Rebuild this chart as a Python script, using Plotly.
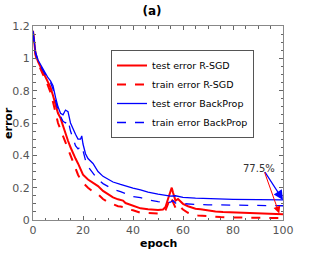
import plotly.graph_objects as go

# ---------------- data ----------------
rsgd_test_x = [0, 1, 2, 3, 4, 5, 6, 7, 8, 9, 10, 11, 12, 13, 14, 15, 16, 17, 18, 19, 20, 22, 24, 26, 28, 30, 32, 34, 35, 36, 37, 40, 43, 46, 50, 52, 53, 54, 55, 55.5, 56, 57, 58, 59, 60, 62, 63, 65, 67, 69, 71, 73, 76, 79, 82, 86, 90, 95, 100]
rsgd_test_y = [1.17, 1.03, 0.98, 0.95, 0.92, 0.89, 0.86, 0.82, 0.77, 0.71, 0.66, 0.63, 0.58, 0.54, 0.49, 0.45, 0.41, 0.38, 0.35, 0.32, 0.28, 0.25, 0.23, 0.21, 0.18, 0.16, 0.14, 0.128, 0.125, 0.12, 0.105, 0.09, 0.072, 0.066, 0.062, 0.065, 0.08, 0.13, 0.18, 0.2, 0.17, 0.12, 0.13, 0.115, 0.1, 0.085, 0.08, 0.07, 0.066, 0.062, 0.055, 0.053, 0.05, 0.048, 0.046, 0.043, 0.04, 0.038, 0.036]

rsgd_train_x = [0, 1, 2, 3, 4, 5, 6, 7, 8, 9, 10, 11, 12, 13, 14, 15, 16, 17, 18, 19, 20, 22, 24, 26, 28, 30, 32, 34, 35, 36, 37, 40, 43, 46, 50, 52, 53, 54, 55, 56, 57, 58, 59, 60, 62, 64, 66, 70, 75, 80, 85, 90, 95, 100]
rsgd_train_y = [1.16, 1.02, 0.97, 0.93, 0.9, 0.87, 0.83, 0.79, 0.73, 0.66, 0.6, 0.56, 0.52, 0.47, 0.43, 0.39, 0.35, 0.31, 0.28, 0.25, 0.23, 0.2, 0.175, 0.16, 0.13, 0.11, 0.095, 0.085, 0.083, 0.08, 0.07, 0.06, 0.045, 0.042, 0.04, 0.042, 0.06, 0.1, 0.145, 0.11, 0.075, 0.095, 0.08, 0.065, 0.045, 0.033, 0.028, 0.022, 0.018, 0.016, 0.014, 0.013, 0.012, 0.012]

bp_test_x = [0, 1, 2, 3, 4, 5, 6, 7, 8, 9, 10, 11, 12, 13, 14, 15, 16, 17, 18, 19, 19.5, 20, 21, 22, 24, 26, 28, 30, 32, 35, 38, 40, 43, 46, 50, 53, 55, 57, 60, 65, 70, 80, 90, 100]
bp_test_y = [1.17, 1.04, 0.99, 0.96, 0.93, 0.9, 0.88, 0.86, 0.83, 0.76, 0.7, 0.66, 0.65, 0.68, 0.67, 0.6, 0.56, 0.53, 0.5, 0.5, 0.52, 0.47, 0.41, 0.38, 0.35, 0.3, 0.27, 0.25, 0.235, 0.22, 0.205, 0.197, 0.186, 0.172, 0.16, 0.152, 0.148, 0.15, 0.14, 0.135, 0.132, 0.128, 0.126, 0.124]

bp_train_x = [0, 1, 2, 3, 4, 5, 6, 7, 8, 9, 10, 11, 12, 13, 14, 15, 16, 17, 18, 19, 19.5, 20, 21, 22, 24, 26, 28, 30, 32, 35, 38, 40, 43, 46, 50, 53, 55, 56, 57, 60, 65, 70, 80, 90, 100]
bp_train_y = [1.16, 1.03, 0.98, 0.95, 0.92, 0.89, 0.87, 0.85, 0.81, 0.74, 0.68, 0.64, 0.61, 0.6, 0.62, 0.55, 0.5, 0.46, 0.44, 0.45, 0.46, 0.43, 0.37, 0.33, 0.29, 0.25, 0.225, 0.205, 0.19, 0.175, 0.155, 0.145, 0.138, 0.125, 0.113, 0.108, 0.11, 0.12, 0.105, 0.1, 0.096, 0.094, 0.091, 0.089, 0.088]

series_names = ["test error R-SGD", "train error R-SGD", "test error BackProp", "train error BackProp"]
x_ticks = [0, 20, 40, 60, 80, 100]
y_ticks = [0, 0.2, 0.4, 0.6, 0.8, 1, 1.2]
y_tick_labels = ["0", "0.2", "0.4", "0.6", "0.8", "1", "1.2"]
annot_text = "77.5%"
annot_pos = (90.5, 0.32)
arrow_tail = (92.4, 0.305)
arrow_blue_head = (100, 0.124)
arrow_red_head = (98.5, 0.04)

FONT = "DejaVu Sans"
W, H = 319, 255
ML, MR, MT, MB = 33, 36, 26, 35
PW, PH = W - ML - MR, H - MT - MB

fig = go.Figure()
fig.add_trace(go.Scatter(x=rsgd_test_x, y=rsgd_test_y, mode="lines", name=series_names[0],
                         line=dict(color="#ff0000", width=2)))
fig.add_trace(go.Scatter(x=rsgd_train_x, y=rsgd_train_y, mode="lines", name=series_names[1],
                         line=dict(color="#ff0000", width=2, dash="dash")))
fig.add_trace(go.Scatter(x=bp_test_x, y=bp_test_y, mode="lines", name=series_names[2],
                         line=dict(color="#0000ff", width=1.3)))
fig.add_trace(go.Scatter(x=bp_train_x, y=bp_train_y, mode="lines", name=series_names[3],
                         line=dict(color="#0000ff", width=1.3, dash="dash")))

fig.add_annotation(x=arrow_blue_head[0], y=arrow_blue_head[1], ax=arrow_tail[0], ay=arrow_tail[1],
                   axref="x", ayref="y", xref="x", yref="y", text="", showarrow=True,
                   arrowhead=2, arrowsize=1.6, arrowwidth=1.2, arrowcolor="#0000ff")
fig.add_annotation(x=arrow_red_head[0], y=arrow_red_head[1], ax=arrow_tail[0], ay=arrow_tail[1],
                   axref="x", ayref="y", xref="x", yref="y", text="", showarrow=True,
                   arrowhead=2, arrowsize=1.4, arrowwidth=1.0, arrowcolor="#ff0000")
fig.add_annotation(x=annot_pos[0], y=annot_pos[1], xref="x", yref="y", text=annot_text,
                   showarrow=False, font=dict(family=FONT, size=10, color="#333"))

# axis titles placed as annotations (pixel positions converted to paper coords)
fig.add_annotation(x=(8 - ML) / PW, y=(H - MB - 123) / PH, xref="paper", yref="paper",
                   text="<b>error</b>", textangle=-90, showarrow=False,
                   xanchor="center", yanchor="middle",
                   font=dict(family=FONT, size=11, color="#000"))
fig.add_annotation(x=(158 - ML) / PW, y=-(243 - (H - MB)) / PH, xref="paper", yref="paper",
                   text="<b>epoch</b>", showarrow=False,
                   xanchor="center", yanchor="middle",
                   font=dict(family=FONT, size=11, color="#000"))

axis_common = dict(
    showline=True, linecolor="#888", linewidth=1, mirror="allticks",
    ticks="inside", ticklen=4, tickcolor="#666", showgrid=False, zeroline=False,
    automargin=False,
    tickfont=dict(family=FONT, size=11, color="#555"),
)

fig.update_xaxes(range=[0, 100], tickvals=x_ticks,
                 minor=dict(dtick=5, ticks="inside", ticklen=2.5, tickcolor="#666"),
                 **axis_common)
fig.update_yaxes(range=[0, 1.2], tickvals=y_ticks, ticktext=y_tick_labels,
                 minor=dict(dtick=0.05, ticks="inside", ticklen=2.5, tickcolor="#666"),
                 **axis_common)

fig.update_layout(
    width=W, height=H,
    margin=dict(l=ML, r=MR, t=MT, b=MB, autoexpand=False),
    paper_bgcolor="white", plot_bgcolor="white",
    title=dict(text="<b>(a)</b>", x=0.476, xref="paper", xanchor="center",
               y=1 - 11 / H, yref="container", yanchor="middle",
               font=dict(family=FONT, size=12, color="#000")),
    legend=dict(x=(111 - ML) / PW, y=(H - MB - 50) / PH, xanchor="left", yanchor="top",
                bgcolor="white", bordercolor="#555", borderwidth=1,
                font=dict(family=FONT, size=9.5, color="#000"),
                tracegroupgap=0, itemwidth=30),
    showlegend=True,
)

fig.write_html("out.html", config={"displayModeBar": False},
               post_script="document.body.style.margin='0px';")
